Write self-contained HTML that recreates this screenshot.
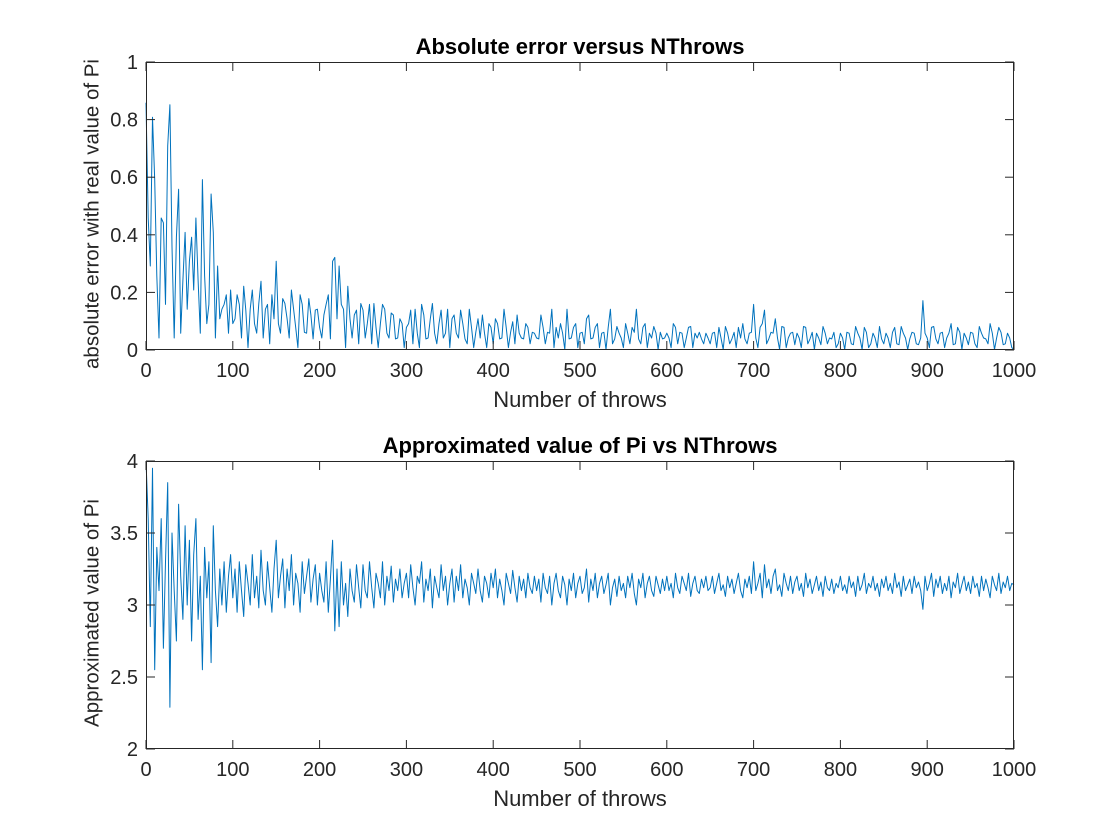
<!DOCTYPE html>
<html><head><meta charset="utf-8"><style>
html,body{margin:0;padding:0;background:#fff;}
svg{display:block;font-family:"Liberation Sans",sans-serif;}
</style></head><body>
<svg id="fig" width="1120" height="840" viewBox="0 0 1120 840">
<rect width="1120" height="840" fill="#fff"/>
</svg>
<script>
const piValues = [
4.0,3.6,2.85,3.95,2.55,3.4,3.1,3.6,2.7,3.3,3.85,2.29,3.5,3.1,2.75,3.7,3.2,2.9,3.55,3.0,
3.45,2.75,3.35,3.6,2.9,3.2,2.55,3.4,3.05,3.3,2.6,3.55,3.1,2.85,3.25,3.0,3.3,2.95,3.2,3.35,
3.05,3.25,2.95,3.3,3.1,2.92,3.28,3.15,3.0,3.35,3.05,3.2,2.98,3.38,3.1,3.0,3.3,3.12,2.95,3.25,
3.45,3.05,3.2,3.32,2.98,3.25,3.1,3.35,3.0,3.22,3.15,2.95,3.3,3.08,3.2,3.32,3.02,3.18,3.28,3.0,
3.22,3.1,3.02,3.3,2.95,3.18,3.45,2.82,3.25,2.85,3.3,3.0,3.15,2.92,3.25,3.1,3.02,3.28,3.12,2.98,
3.28,3.1,3.05,3.3,3.12,2.98,3.22,3.15,3.05,3.3,3.0,3.2,3.1,3.27,3.02,3.18,3.1,3.25,3.05,3.15,
3.22,3.05,3.28,3.12,3.0,3.2,3.15,3.3,3.02,3.18,3.1,3.25,2.98,3.2,3.12,3.05,3.28,3.1,3.2,3.0,
3.15,3.25,3.02,3.2,3.1,3.28,3.05,3.18,3.12,3.0,3.22,3.15,3.08,3.25,3.1,3.02,3.2,3.15,3.05,3.22,
3.12,3.25,3.05,3.18,3.1,3.0,3.22,3.15,3.08,3.24,3.12,3.02,3.2,3.1,3.18,3.05,3.22,3.12,3.08,3.2,
3.1,3.18,3.02,3.22,3.12,3.08,3.2,3.0,3.15,3.22,3.1,3.05,3.2,3.14,3.0,3.18,3.1,3.22,3.05,3.15,
3.2,3.08,3.12,3.25,3.02,3.18,3.1,3.22,3.05,3.15,3.2,3.08,3.14,3.22,3.0,3.12,3.18,3.06,3.2,3.1,
3.15,3.05,3.2,3.12,3.22,3.08,3.0,3.18,3.12,3.22,3.05,3.15,3.2,3.1,3.06,3.2,3.14,3.08,3.18,3.1,
3.2,3.1,3.15,3.05,3.22,3.12,3.08,3.2,3.15,3.1,3.22,3.06,3.15,3.2,3.1,3.08,3.18,3.12,3.2,3.1,
3.12,3.2,3.08,3.15,3.22,3.1,3.14,3.06,3.2,3.12,3.18,3.08,3.15,3.22,3.1,3.05,3.18,3.12,3.2,3.08,
3.3,3.1,3.15,3.22,3.05,3.28,3.12,3.18,3.08,3.2,3.25,3.1,3.14,3.06,3.22,3.15,3.1,3.2,3.08,3.16,
3.2,3.1,3.15,3.06,3.22,3.12,3.18,3.08,3.14,3.2,3.1,3.16,3.06,3.2,3.12,3.1,3.18,3.08,3.15,3.12,
3.2,3.1,3.14,3.08,3.2,3.12,3.16,3.06,3.2,3.1,3.14,3.22,3.08,3.15,3.12,3.2,3.1,3.15,3.06,3.18,
3.12,3.2,3.1,3.15,3.08,3.22,3.12,3.16,3.06,3.2,3.1,3.14,3.18,3.08,3.2,3.12,3.16,3.1,2.97,3.2,
3.1,3.15,3.22,3.06,3.18,3.12,3.2,3.08,3.15,3.1,3.2,3.05,3.16,3.12,3.22,3.08,3.14,3.2,3.1,3.16,
3.08,3.2,3.12,3.15,3.06,3.2,3.1,3.18,3.12,3.05,3.2,3.14,3.1,3.22,3.08,3.16,3.12,3.2,3.1,3.15,
3.14];
const throwStep = 2.5;
const xTicks = [0,100,200,300,400,500,600,700,800,900,1000];
const yTicksTop = [0,0.2,0.4,0.6,0.8,1];
const yTicksBottom = [2,2.5,3,3.5,4];

const NS="http://www.w3.org/2000/svg";
const svg=document.getElementById('fig');
function mk(tag,attrs,parent){const e=document.createElementNS(NS,tag);for(const k in attrs)e.setAttribute(k,attrs[k]);(parent||svg).appendChild(e);return e;}

function panel(cfg){
  const {top,bottom,ymin,ymax,yTicks,title,ylabel,values,name}=cfg;
  const L=146,R=1014;
  const xs=v=>L+(v-0)/(1000-0)*(R-L);
  const ys=v=>bottom-(v-ymin)/(ymax-ymin)*(bottom-top);
  const g=mk('g',{});
  
  
  mk('rect',{x:L,y:top,width:R-L,height:bottom-top,fill:'#fff'},g);
  let d='';
  values.forEach((v,i)=>{const x=i*throwStep;d+=(i?'L':'M')+xs(Math.min(x,1000)).toFixed(1)+' '+ys(Math.max(ymin,Math.min(ymax,v))).toFixed(1);});
  const line=mk('path',{d:d,fill:'none',stroke:'#0072BD','stroke-width':1,'stroke-linejoin':'round'},g);
  
  
  mk('rect',{x:L+0.5,y:top+0.5,width:R-L-1,height:bottom-top-1,fill:'none',stroke:'#262626','stroke-width':1},g);
  xTicks.forEach(t=>{
    const x=xs(t);
    mk('line',{x1:x,y1:bottom,x2:x,y2:bottom-9,stroke:'#262626'},g);
    mk('line',{x1:x,y1:top,x2:x,y2:top+9,stroke:'#262626'},g);
    const tx=mk('text',{x:x,y:bottom+27,'text-anchor':'middle','font-size':20,fill:'#262626'},g);
    tx.textContent=t;
    
    
  });
  yTicks.forEach(t=>{
    const y=ys(t);
    mk('line',{x1:L,y1:y,x2:L+9,y2:y,stroke:'#262626'},g);
    mk('line',{x1:R,y1:y,x2:R-9,y2:y,stroke:'#262626'},g);
    const ty=mk('text',{x:L-8,y:y+7,'text-anchor':'end','font-size':20,fill:'#262626'},g);
    ty.textContent=t;
    
    
  });
  const tt=mk('text',{x:(L+R)/2,y:top-8,'text-anchor':'middle','font-size':22,'font-weight':'bold',fill:'#000'},g);
  tt.textContent=title;
  
  
  const xl=mk('text',{x:(L+R)/2,y:bottom+57,'text-anchor':'middle','font-size':22,fill:'#262626'},g);
  xl.textContent='Number of throws';
  
  
  const cy=(top+bottom)/2+8;
  const yl=mk('text',{x:93,y:cy,'text-anchor':'middle','font-size':20.5,fill:'#262626','dominant-baseline':'middle',transform:'rotate(-90 93 '+cy+')'},g);
  yl.textContent=ylabel;
  
  
}

const errValues=piValues.map(v=>Math.abs(v-Math.PI));
panel({top:62,bottom:350,ymin:0,ymax:1,yTicks:yTicksTop,title:'Absolute error versus NThrows',ylabel:'absolute error with real value of Pi',values:errValues,name:'error-panel'});
panel({top:461,bottom:749,ymin:2,ymax:4,yTicks:yTicksBottom,title:'Approximated value of Pi vs NThrows',ylabel:'Approximated value of Pi',values:piValues,name:'pi-panel'});
</script>
</body></html>
